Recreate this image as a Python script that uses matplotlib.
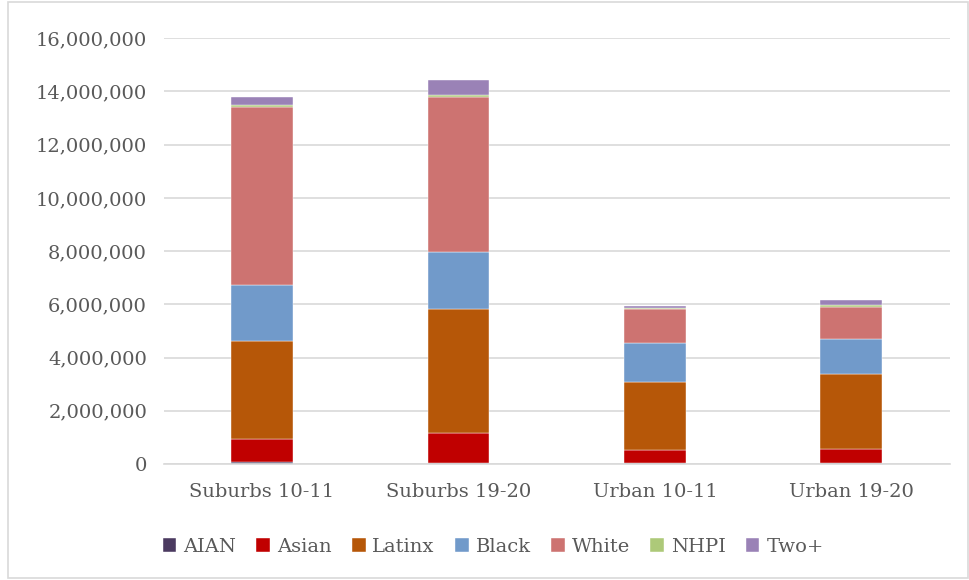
"""Stacked enrollment by race, suburbs vs urban."""

import matplotlib

matplotlib.use("Agg")
import matplotlib.pyplot as plt
from matplotlib.patches import Rectangle
from matplotlib.ticker import FuncFormatter
import numpy as np

categories = ["Suburbs 10-11", "Suburbs 19-20", "Urban 10-11", "Urban 19-20"]
groups = ["AIAN", "Asian", "Latinx", "Black", "White", "NHPI", "Two+"]

aian = [60000, 50000, 30000, 30000]
asian = [880000, 1120000, 510000, 550000]
latinx = [3690000, 4670000, 2550000, 2810000]
black = [2110000, 2130000, 1460000, 1310000]
white = [6690000, 5840000, 1280000, 1210000]
nhpi = [70000, 60000, 30000, 60000]
two_plus = [300000, 550000, 90000, 180000]

colors = ["#4B3A60", "#C00000", "#B65708", "#719ACA", "#CD7371", "#ADC979", "#9A82B6"]

series = [aian, asian, latinx, black, white, nhpi, two_plus]

fig = plt.figure(figsize=(9.69, 5.8), dpi=100)
ax = fig.add_axes([0.169, 0.2, 0.811, 0.734])

x = np.arange(len(categories))
bottom = np.zeros(len(categories))
for name, vals, c in zip(groups, series, colors):
    ax.bar(x, vals, width=0.315, bottom=bottom, color=c, label=name,
           edgecolor="white", linewidth=0.3)
    bottom += np.array(vals)

ax.set_xlim(-0.5, 3.5)
ax.set_ylim(0, 16000000)
ax.set_yticks(np.arange(0, 16000001, 2000000))
ax.yaxis.set_major_formatter(FuncFormatter(lambda v, _: f"{int(v):,}"))
ax.set_xticks(x)
ax.set_xticklabels(categories)
ax.grid(axis="y", color="#D9D9D9", linewidth=1.2)
ax.set_axisbelow(True)
for s in ["top", "right", "left"]:
    ax.spines[s].set_visible(False)
ax.spines["bottom"].set_color("#D9D9D9")
ax.spines["bottom"].set_linewidth(1.2)
ax.tick_params(length=0, labelsize=14, labelcolor="#595959", pad=12)
ax.tick_params(axis="x", pad=14)
for lbl in ax.get_xticklabels() + ax.get_yticklabels():
    lbl.set_family("DejaVu Serif")

leg = fig.legend(loc="center", bbox_to_anchor=(0.509, 0.057), ncol=7,
                 frameon=False, handlelength=0.7, handleheight=0.7,
                 handletextpad=0.35, columnspacing=1.05,
                 prop={"family": "DejaVu Serif", "size": 14})
for t in leg.get_texts():
    t.set_color("#595959")

fig.add_artist(Rectangle((8 / 969, 0.003), 1 - 9 / 969, 0.994,
                         transform=fig.transFigure, fill=False,
                         edgecolor="#D9D9D9", linewidth=1.2))

fig.savefig("out.png", dpi=100)
plt.close(fig)
